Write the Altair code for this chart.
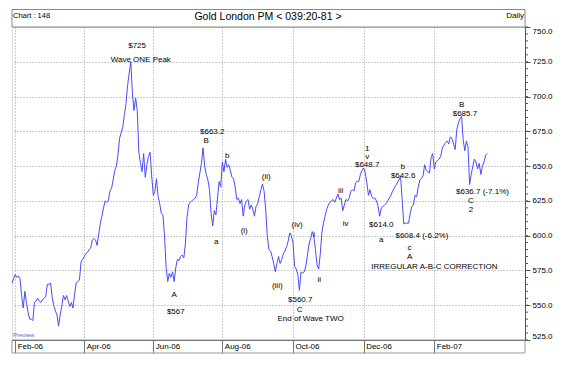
import altair as alt
import pandas as pd

# ---------------- data ----------------
start_date = "2006-01-30"
gold_pm = [
    566, 569, 572, 570, 571, 569, 557, 548, 560, 552,
    545, 540, 540, 539, 552, 553, 555, 553, 552, 554,
    555, 556, 565, 565, 566, 556, 550, 546, 543, 535,
    543, 549, 557, 554, 557, 553, 549, 552, 548, 558,
    566, 567, 568, 581, 583, 585, 587, 588, 590, 591,
    597, 598, 597, 593, 601, 609, 614, 620, 625, 624,
    625, 632, 634, 640, 647, 650, 658, 670, 674, 678,
    687, 695, 708, 717, 725, 702, 690, 699, 690, 660,
    652, 646, 659, 642, 651, 657, 660, 643, 629, 632,
    641, 628, 623, 616, 615, 600, 577, 567, 573, 570,
    574, 567, 577, 583, 582, 585, 586, 584, 594, 613,
    622, 624, 625, 626, 627, 629, 638, 645, 652, 663.2,
    650, 644, 640, 633, 616, 607, 618, 615, 627, 639,
    635, 653, 646, 655, 649, 651, 647, 642, 641, 635,
    626, 627, 623, 626, 614, 622, 625, 626, 619, 622,
    619, 614, 621, 623, 628, 633, 637, 632, 619, 600,
    590, 589, 585, 580, 574, 580, 585, 580, 583, 587,
    589, 592, 596, 602, 600, 595, 578, 576, 572, 560.7,
    574, 573, 574, 578, 586, 594, 598, 603, 599, 590,
    579, 576, 587, 602, 609, 614, 619, 622, 624, 625,
    626, 624, 627, 630, 626, 627, 618, 622, 626, 625,
    627, 632, 633, 632, 638, 639, 639, 644, 647, 648.7,
    645, 638, 629, 633, 628, 627, 627, 625, 621, 614,
    620, 621, 622, 623, 625, 627, 629, 632, 634, 636,
    638, 640, 642.6, 626, 608.4, 609, 609, 609, 616, 621,
    622, 629, 628, 635, 640, 641, 643, 651, 647, 646,
    645, 656, 659, 648, 653, 654, 655, 657, 663, 665,
    667, 668, 666, 671, 670, 666, 662, 676, 681, 684,
    685.7, 669, 661, 668, 664, 636.7, 644, 650, 655, 653,
    648, 652, 644, 650, 653, 658, 659,
]

month_labels = ["Feb-06", "Apr-06", "Jun-06", "Aug-06", "Oct-06", "Dec-06", "Feb-07"]
month_starts = ["2006-02-01", "2006-04-03", "2006-06-01", "2006-08-01",
                "2006-10-02", "2006-12-01", "2007-02-01"]
y_major = [525, 550, 575, 600, 625, 650, 675, 700, 725, 750]
y_minor = [525, 530, 535, 540, 545, 550, 555, 560, 565, 570, 575, 580, 585, 590,
           595, 600, 605, 610, 615, 620, 625, 630, 635, 640, 645, 650, 655, 660,
           665, 670, 675, 680, 685, 690, 695, 700, 705, 710, 715, 720, 725, 730,
           735, 740, 745, 750]

ann_text = ["$725", "Wave ONE Peak", "$663.2", "B", "b", "(ii)", "(i)", "a", "(iii)",
            "(iv)", "i", "ii", "$560.7", "C", "End of Wave TWO", "A", "$567",
            "iii", "iv", "1", "v", "$648.7", "$614.0", "a", "b", "$642.6",
            "$608.4 (-6.2%)", "c", "A", "IRREGULAR A-B-C CORRECTION",
            "B", "$685.7", "$636.7 (-7.1%)", "C", "2"]
ann_day = [77.9, 80.2, 124.7, 121.0, 134.0, 158.3, 144.6, 127.2, 165.2,
           177.6, 188.2, 191.3, 179.5, 179.2, 186.0, 101.0, 102.0,
           204.7, 207.8, 221.2, 221.2, 221.2, 230.0, 230.0, 243.3, 243.6,
           255.3, 247.6, 247.6, 263.0,
           280.1, 282.1, 293.0, 285.8, 285.8]
ann_price = [736.0, 726.3, 674.5, 667.7, 657.3, 642.2, 603.3, 595.4, 563.8,
             607.7, 600.5, 568.1, 553.7, 546.9, 540.1, 557.0, 544.8,
             632.1, 608.7, 662.6, 656.6, 651.0, 607.7, 596.9, 649.7, 642.9,
             600.0, 591.3, 584.9, 577.8,
             693.9, 687.2, 631.6, 625.1, 618.4]

# ---------------- tables ----------------
dates = pd.bdate_range(start_date, periods=len(gold_pm))
df = pd.DataFrame({"day": range(len(gold_pm)), "price": gold_pm})
tick_days = [int(i) for i in dates.get_indexer(pd.to_datetime(month_starts))]
label_expr = " : ".join(f"datum.value == {d} ? '{l}'" for d, l in zip(tick_days, month_labels)) + " : ''"

ann_df = pd.DataFrame({"day": ann_day, "price": ann_price, "label": ann_text})
minor_df = pd.DataFrame({"price": y_minor})

FONT = "Liberation Sans"
W, H = 513, 313

xscale = alt.Scale(domain=[0, 319.5], nice=False, zero=False)
yscale = alt.Scale(domain=[525, 750], nice=False, zero=False)
x_axis = alt.Axis(values=tick_days, labelExpr=label_expr, grid=True,
                  gridDash=[1, 2], gridColor="#9a9a9a", tickSize=13,
                  tickColor="#777", domainColor="#555", labelAlign="left",
                  labelBaseline="top", labelPadding=-11, labelOffset=2,
                  labelFont=FONT, labelFontSize=8, labelColor="#000",
                  labelFlush=False, labelOverlap=False, labelBound=False)
y_axis = alt.Axis(orient="right", values=y_major, format=".1f", grid=True,
                  gridDash=[1, 2], gridColor="#9a9a9a", tickSize=5,
                  tickColor="#555", domainColor="#555", labelPadding=2,
                  labelFont=FONT, labelFontSize=8, labelColor="#000",
                  labelFlush=True, labelOverlap=False)
x_enc = alt.X("day:Q", scale=xscale, title=None, axis=x_axis)
y_enc = alt.Y("price:Q", scale=yscale, title=None, axis=y_axis)

line = alt.Chart(df).mark_line(color="#4a4aff", strokeWidth=1).encode(x=x_enc, y=y_enc)

minor = alt.Chart(minor_df).mark_rule(color="#555", clip=False).encode(
    y=y_enc, x=alt.value(W), x2=alt.value(W + 3))

ann = alt.Chart(ann_df).mark_text(font=FONT, fontSize=8, fill="#000").encode(
    x=x_enc, y=y_enc, text="label:N")

one = pd.DataFrame({"k": [0]})
title_box = alt.Chart(one).mark_rect(fillOpacity=0, stroke="#888", strokeWidth=1).encode(
    x=alt.value(0), x2=alt.value(W), y=alt.value(-17.5), y2=alt.value(0))
bottom_box = alt.Chart(one).mark_rect(fillOpacity=0, stroke="#999", strokeWidth=1).encode(
    x=alt.value(0), x2=alt.value(W), y=alt.value(H), y2=alt.value(H + 13))

t_left = alt.Chart(one).mark_text(font=FONT, fontSize=7.5, align="left", fill="#000").encode(
    x=alt.value(1), y=alt.value(-11), text=alt.value("Chart : 148"))
t_mid = alt.Chart(one).mark_text(font=FONT, fontSize=10.5, align="center", fill="#000").encode(
    x=alt.value(256), y=alt.value(-10), text=alt.value("Gold London PM < 039:20-81 >"))
t_right = alt.Chart(one).mark_text(font=FONT, fontSize=8, align="right", fill="#000").encode(
    x=alt.value(W - 1), y=alt.value(-11), text=alt.value("Daily"))
t_prev = alt.Chart(one).mark_text(font=FONT, fontSize=6, align="left", fill="#6060d0").encode(
    x=alt.value(1), y=alt.value(H - 5), text=alt.value("Preview"))

chart = alt.layer(line, minor, ann, title_box, bottom_box, t_left, t_mid, t_right, t_prev).properties(
    width=W, height=H,
    padding={"left": 4, "top": 19, "right": 40, "bottom": 18},
    autosize=alt.AutoSizeParams(type="none"),
).configure_view(stroke="#888", strokeWidth=1).configure(background="white")

chart.save("out.html", embed_options={"renderer": "svg", "actions": False})
